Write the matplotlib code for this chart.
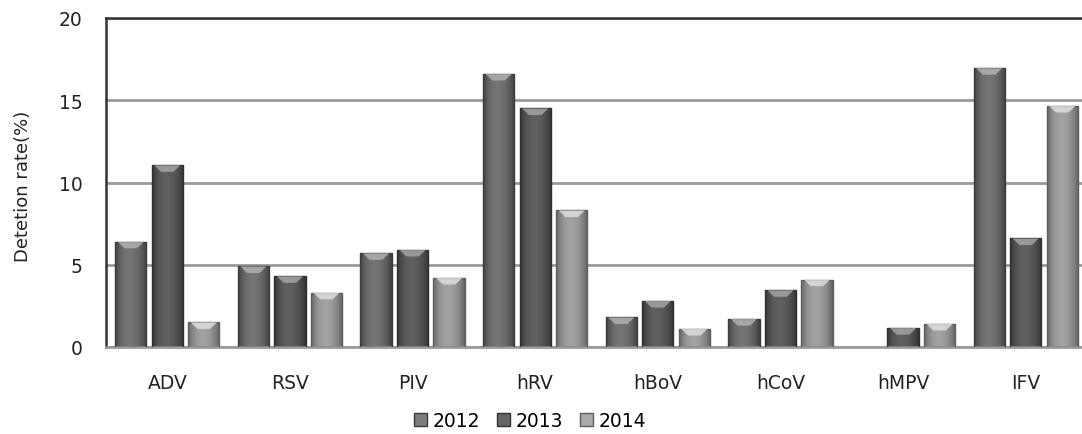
import numpy as np
import matplotlib.pyplot as plt
from matplotlib.colors import LinearSegmentedColormap
from matplotlib.patches import Patch, Polygon

viruses = ["ADV", "RSV", "PIV", "hRV", "hBoV", "hCoV", "hMPV", "IFV"]
years = ["2012", "2013", "2014"]
rate_2012 = [6.4, 4.9, 5.7, 16.6, 1.8, 1.7, 0.0, 16.95]
rate_2013 = [11.05, 4.3, 5.9, 14.5, 2.8, 3.45, 1.15, 6.6]
rate_2014 = [1.5, 3.3, 4.2, 8.3, 1.1, 4.1, 1.4, 14.65]

# edge / highlight / cap colours for each year
shades = {
    "2012": ("#3c3c3c", "#7c7c7c", "#b4b4b4"),
    "2013": ("#303030", "#666666", "#a8a8a8"),
    "2014": ("#5e5e5e", "#ababab", "#e2e2e2"),
}

plt.rcParams['font.family'] = 'DejaVu Sans'

fig = plt.figure(figsize=(10.82, 4.35), dpi=100)
ax = fig.add_axes([106 / 1082, 87 / 435, 981 / 1082, 329 / 435])

x = np.arange(len(viruses))
width = 0.255
step = 0.298

# horizontal profile across a bar: dark rims, light band left of centre
t = np.linspace(0, 1, 64)
profile = np.clip(np.sin(np.pi * t) ** 0.7 * (1.0 - 0.25 * t), 0, 1)
grad = profile[np.newaxis, :]

for k, (year, vals) in enumerate(zip(years, [rate_2012, rate_2013, rate_2014])):
    edge, light, cap = shades[year]
    cmap = LinearSegmentedColormap.from_list(year, [edge, light])
    bars = ax.bar(x + (k - 1) * step, vals, width, facecolor="none",
                  edgecolor=edge, linewidth=1.0, zorder=3)
    for b in bars:
        h = b.get_height()
        if h <= 0:
            b.set_visible(False)
            continue
        x0, w = b.get_x(), b.get_width()
        im = ax.imshow(grad, cmap=cmap, vmin=0, vmax=1, aspect="auto",
                       extent=[x0, x0 + w, 0, h], zorder=2,
                       interpolation="bicubic")
        im.set_clip_path(b)
        d = min(0.4, h * 0.5)
        ax.add_patch(Polygon([(x0 + 0.08 * w, h), (x0 + 0.92 * w, h),
                              (x0 + 0.7 * w, h - d), (x0 + 0.3 * w, h - d)],
                             closed=True, facecolor=cap, edgecolor="none",
                             alpha=0.8, zorder=4))

ax.set_xlim(-0.5, len(viruses) - 0.5)
ax.set_ylim(0, 20)
ax.set_yticks([0, 5, 10, 15, 20])
ax.set_xticks(x)
ax.set_xticklabels(viruses)
ax.tick_params(axis="both", length=0, labelsize=13.5, colors="#222222")
ax.tick_params(axis="y", pad=17)
ax.tick_params(axis="x", pad=19)
ax.yaxis.grid(True, color="#9a9a9a", linewidth=2.0, zorder=1)
ax.set_axisbelow(True)

for side in ["left", "top"]:
    ax.spines[side].set_color("#333333")
    ax.spines[side].set_linewidth(1.8)
ax.spines["right"].set_visible(False)
ax.spines["bottom"].set_color("#9a9a9a")
ax.spines["bottom"].set_linewidth(2.0)

ax.set_ylabel("Detetion rate(%)", fontsize=13, color="#222222")
ax.yaxis.set_label_coords(-0.075, 0.49)

handles = [Patch(facecolor=shades[y][1], edgecolor=shades[y][0]) for y in years]
fig.legend(handles, years, loc="center", bbox_to_anchor=(530 / 1082, 0.03),
           ncol=3, frameon=False, fontsize=13.5, handlelength=0.7,
           handleheight=0.7, handletextpad=0.3, columnspacing=0.9)

fig.savefig("out.png", dpi=100)
